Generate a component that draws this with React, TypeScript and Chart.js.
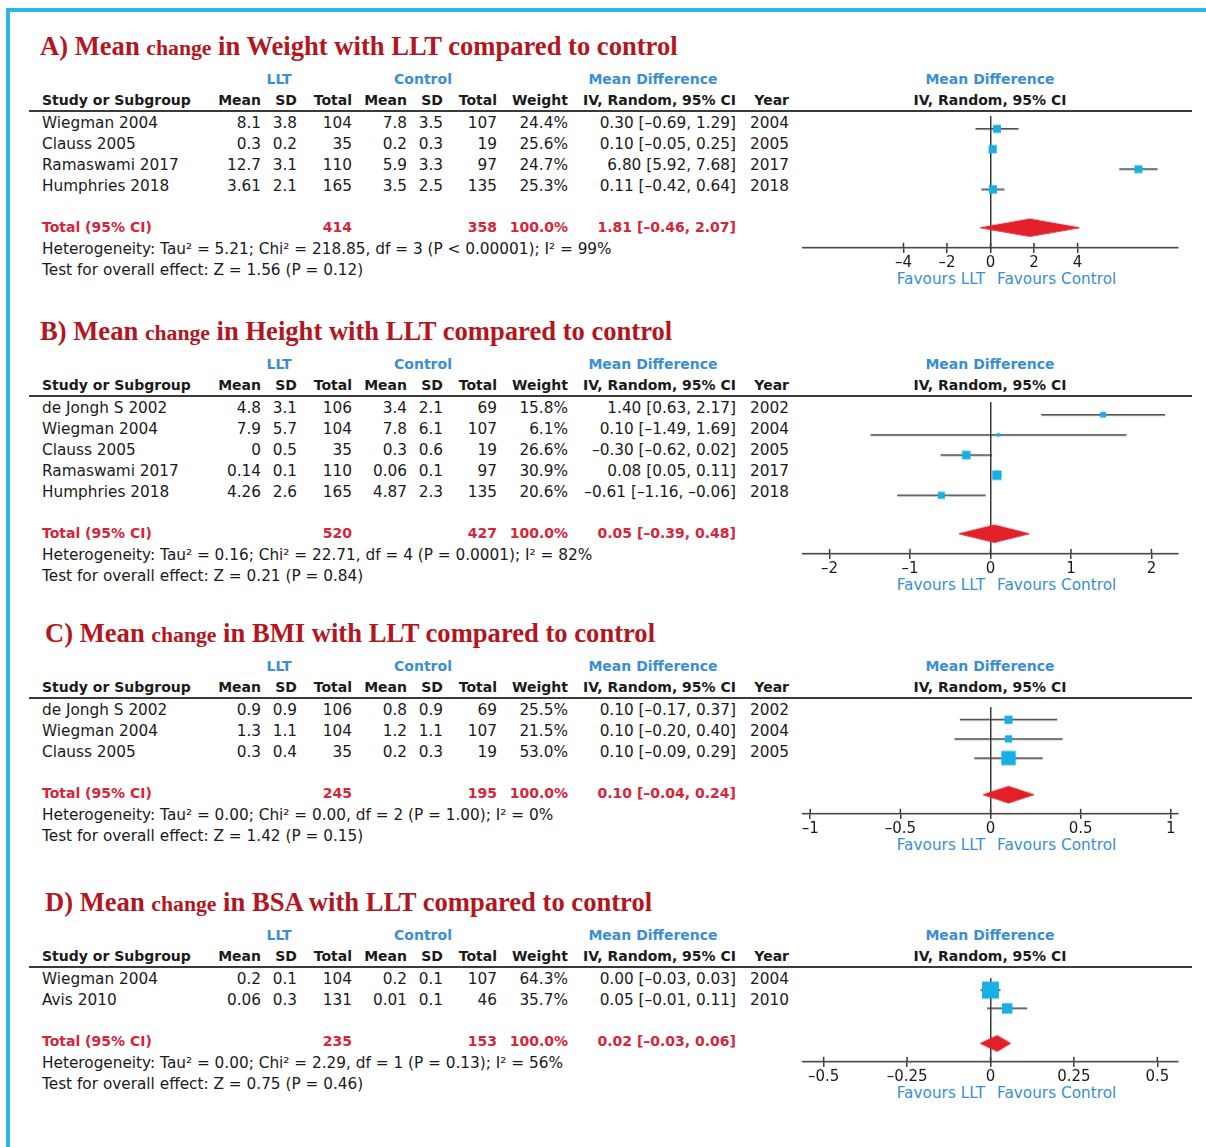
import React, { useEffect, useRef } from "react";
import { Chart, registerables } from "chart.js";

Chart.register(...registerables);

// ---------------- Panel A: Weight ----------------
const weightStudies = ["Wiegman 2004", "Clauss 2005", "Ramaswami 2017", "Humphries 2018"];
const weightLltMean = [8.1, 0.3, 12.7, 3.61];
const weightLltSd = [3.8, 0.2, 3.1, 2.1];
const weightLltTotal = [104, 35, 110, 165];
const weightCtlMean = [7.8, 0.2, 5.9, 3.5];
const weightCtlSd = [3.5, 0.3, 3.3, 2.5];
const weightCtlTotal = [107, 19, 97, 135];
const weightWeights = [24.4, 25.6, 24.7, 25.3];
const weightMD = [0.3, 0.1, 6.8, 0.11];
const weightLow = [-0.69, -0.05, 5.92, -0.42];
const weightHigh = [1.29, 0.25, 7.68, 0.64];
const weightYears = [2004, 2005, 2017, 2018];
const weightTotals = [414, 358];
const weightPooled = [1.81, -0.46, 2.07];
const weightDiamond = [-0.46, 1.81, 4.08];
const weightTicks = [-4, -2, 0, 2, 4];
const weightRange = [-8.62, 8.62];
const weightStats = [
  "Heterogeneity: Tau² = 5.21; Chi² = 218.85, df = 3 (P < 0.00001); I² = 99%",
  "Test for overall effect: Z = 1.56 (P = 0.12)",
];

// ---------------- Panel B: Height ----------------
const heightStudies = ["de Jongh S 2002", "Wiegman 2004", "Clauss 2005", "Ramaswami 2017", "Humphries 2018"];
const heightLltMean = [4.8, 7.9, 0, 0.14, 4.26];
const heightLltSd = [3.1, 5.7, 0.5, 0.1, 2.6];
const heightLltTotal = [106, 104, 35, 110, 165];
const heightCtlMean = [3.4, 7.8, 0.3, 0.06, 4.87];
const heightCtlSd = [2.1, 6.1, 0.6, 0.1, 2.3];
const heightCtlTotal = [69, 107, 19, 97, 135];
const heightWeights = [15.8, 6.1, 26.6, 30.9, 20.6];
const heightMD = [1.4, 0.1, -0.3, 0.08, -0.61];
const heightLow = [0.63, -1.49, -0.62, 0.05, -1.16];
const heightHigh = [2.17, 1.69, 0.02, 0.11, -0.06];
const heightYears = [2002, 2004, 2005, 2017, 2018];
const heightTotals = [520, 427];
const heightPooled = [0.05, -0.39, 0.48];
const heightDiamond = [-0.39, 0.05, 0.48];
const heightTicks = [-2, -1, 0, 1, 2];
const heightRange = [-2.33, 2.33];
const heightStats = [
  "Heterogeneity: Tau² = 0.16; Chi² = 22.71, df = 4 (P = 0.0001); I² = 82%",
  "Test for overall effect: Z = 0.21 (P = 0.84)",
];

// ---------------- Panel C: BMI ----------------
const bmiStudies = ["de Jongh S 2002", "Wiegman 2004", "Clauss 2005"];
const bmiLltMean = [0.9, 1.3, 0.3];
const bmiLltSd = [0.9, 1.1, 0.4];
const bmiLltTotal = [106, 104, 35];
const bmiCtlMean = [0.8, 1.2, 0.2];
const bmiCtlSd = [0.9, 1.1, 0.3];
const bmiCtlTotal = [69, 107, 19];
const bmiWeights = [25.5, 21.5, 53.0];
const bmiMD = [0.1, 0.1, 0.1];
const bmiLow = [-0.17, -0.2, -0.09];
const bmiHigh = [0.37, 0.4, 0.29];
const bmiYears = [2002, 2004, 2005];
const bmiTotals = [245, 195];
const bmiPooled = [0.1, -0.04, 0.24];
const bmiDiamond = [-0.04, 0.1, 0.24];
const bmiTicks = [-1, -0.5, 0, 0.5, 1];
const bmiRange = [-1.04, 1.04];
const bmiStats = [
  "Heterogeneity: Tau² = 0.00; Chi² = 0.00, df = 2 (P = 1.00); I² = 0%",
  "Test for overall effect: Z = 1.42 (P = 0.15)",
];

// ---------------- Panel D: BSA ----------------
const bsaStudies = ["Wiegman 2004", "Avis 2010"];
const bsaLltMean = [0.2, 0.06];
const bsaLltSd = [0.1, 0.3];
const bsaLltTotal = [104, 131];
const bsaCtlMean = [0.2, 0.01];
const bsaCtlSd = [0.1, 0.1];
const bsaCtlTotal = [107, 46];
const bsaWeights = [64.3, 35.7];
const bsaMD = [0.0, 0.05];
const bsaLow = [-0.03, -0.01];
const bsaHigh = [0.03, 0.11];
const bsaYears = [2004, 2010];
const bsaTotals = [235, 153];
const bsaPooled = [0.02, -0.03, 0.06];
const bsaDiamond = [-0.03, 0.02, 0.06];
const bsaTicks = [-0.5, -0.25, 0, 0.25, 0.5];
const bsaRange = [-0.562, 0.562];
const bsaStats = [
  "Heterogeneity: Tau² = 0.00; Chi² = 2.29, df = 1 (P = 0.13); I² = 56%",
  "Test for overall effect: Z = 0.75 (P = 0.46)",
];

// ---------------- style constants ----------------
const SANS = '"DejaVu Sans", sans-serif';
const SERIF = '"Liberation Serif", "Times New Roman", serif';
const INK = "#1a1a1a";
const LINE = "#3a3a3a";
const BLUE = "#3a8ed2";
const TITLE_RED = "#b3161f";
const TOTAL_RED = "#d4253a";
const SQUARE = "#17b0e6";
const DIAMOND = "#e2202a";
const FRAME = "#2cb7e4";
const ROW = 21;
const AXIS_H = 22;
const PLOT_LEFT = 780;
const PLOT_W = 426;
const REG = 15.3;
const B = 14;
const COL = { lm: 261, lsd: 297, ln: 352, cm: 407, csd: 443, cn: 497, w: 568, ci: 736, yr: 789 };

const minus = (s: string) => s.replace(/-/g, "\u2013");
const f2 = (v: number) => minus(v.toFixed(2));
const ciText = (m: number, l: number, h: number) => `${f2(m)} [${f2(l)}, ${f2(h)}]`;

type PanelDef = {
  letter: string;
  subject: string;
  H: number;
  titleX: number;
  studies: string[];
  lltMean: number[];
  lltSd: number[];
  lltTotal: number[];
  ctlMean: number[];
  ctlSd: number[];
  ctlTotal: number[];
  weights: number[];
  md: number[];
  low: number[];
  high: number[];
  years: number[];
  totals: number[];
  pooled: number[];
  diamond: number[];
  ticks: number[];
  range: number[];
  stats: string[];
};

const panels: PanelDef[] = [
  {
    letter: "A)", subject: "Weight", H: 111, titleX: 40,
    studies: weightStudies, lltMean: weightLltMean, lltSd: weightLltSd, lltTotal: weightLltTotal,
    ctlMean: weightCtlMean, ctlSd: weightCtlSd, ctlTotal: weightCtlTotal, weights: weightWeights,
    md: weightMD, low: weightLow, high: weightHigh, years: weightYears, totals: weightTotals,
    pooled: weightPooled, diamond: weightDiamond, ticks: weightTicks, range: weightRange, stats: weightStats,
  },
  {
    letter: "B)", subject: "Height", H: 396, titleX: 40,
    studies: heightStudies, lltMean: heightLltMean, lltSd: heightLltSd, lltTotal: heightLltTotal,
    ctlMean: heightCtlMean, ctlSd: heightCtlSd, ctlTotal: heightCtlTotal, weights: heightWeights,
    md: heightMD, low: heightLow, high: heightHigh, years: heightYears, totals: heightTotals,
    pooled: heightPooled, diamond: heightDiamond, ticks: heightTicks, range: heightRange, stats: heightStats,
  },
  {
    letter: "C)", subject: "BMI", H: 698, titleX: 45,
    studies: bmiStudies, lltMean: bmiLltMean, lltSd: bmiLltSd, lltTotal: bmiLltTotal,
    ctlMean: bmiCtlMean, ctlSd: bmiCtlSd, ctlTotal: bmiCtlTotal, weights: bmiWeights,
    md: bmiMD, low: bmiLow, high: bmiHigh, years: bmiYears, totals: bmiTotals,
    pooled: bmiPooled, diamond: bmiDiamond, ticks: bmiTicks, range: bmiRange, stats: bmiStats,
  },
  {
    letter: "D)", subject: "BSA", H: 967, titleX: 45,
    studies: bsaStudies, lltMean: bsaLltMean, lltSd: bsaLltSd, lltTotal: bsaLltTotal,
    ctlMean: bsaCtlMean, ctlSd: bsaCtlSd, ctlTotal: bsaCtlTotal, weights: bsaWeights,
    md: bsaMD, low: bsaLow, high: bsaHigh, years: bsaYears, totals: bsaTotals,
    pooled: bsaPooled, diamond: bsaDiamond, ticks: bsaTicks, range: bsaRange, stats: bsaStats,
  },
];

function Txt(props: {
  x: number; y: number; children: React.ReactNode; align?: "left" | "right" | "center";
  size?: number; bold?: boolean; color?: string; family?: string;
}) {
  const { x, y, children, align = "left", size = REG, bold = false, color = INK, family = SANS } = props;
  const tx = align === "left" ? "0" : align === "right" ? "-100%" : "-50%";
  return (
    <div
      style={{
        position: "absolute", left: x, top: y, transform: `translate(${tx}, -50%)`,
        whiteSpace: "nowrap", fontFamily: family, fontSize: size, fontWeight: bold ? 700 : 400,
        color, lineHeight: 1,
      }}
    >
      {children}
    </div>
  );
}

const upTicks = {
  id: "upTicks",
  afterDraw(chart: any) {
    const s = chart.scales.x;
    const ctx = chart.ctx;
    const b = chart.chartArea.bottom;
    ctx.save();
    ctx.strokeStyle = LINE;
    ctx.lineWidth = 1.5;
    s.ticks.forEach((t: any) => {
      const px = s.getPixelForValue(t.value);
      ctx.beginPath();
      ctx.moveTo(px, b - 5);
      ctx.lineTo(px, b);
      ctx.stroke();
    });
    ctx.restore();
  },
};

function Forest({ p }: { p: PanelDef }) {
  const ref = useRef<HTMLCanvasElement>(null);
  const n = p.studies.length;
  const h = (n + 2.5) * ROW + AXIS_H;
  useEffect(() => {
    if (!ref.current) return;
    const totalY = n + 0.9;
    const datasets: any[] = [];
    datasets.push({
      data: p.md.map((m, i) => ({ x: m, y: i })),
      showLine: false,
      pointStyle: "rect",
      pointRadius: p.weights.map((w) => (2.4 + 0.225 * w) / Math.SQRT2),
      pointBackgroundColor: SQUARE,
      pointBorderWidth: 0,
      pointBorderColor: SQUARE,
      order: 0,
    });
    p.low.forEach((lo, i) =>
      datasets.push({
        data: [{ x: lo, y: i }, { x: p.high[i], y: i }],
        showLine: true,
        borderColor: LINE,
        borderWidth: 1.5,
        pointRadius: 0,
        order: 2,
      })
    );
    const [dl, dm, dh] = p.diamond;
    datasets.push({
      data: [
        { x: dl, y: totalY }, { x: dm, y: totalY - 0.43 }, { x: dh, y: totalY },
        { x: dm, y: totalY + 0.43 }, { x: dl, y: totalY },
      ],
      showLine: true,
      fill: "shape",
      backgroundColor: DIAMOND,
      borderColor: DIAMOND,
      borderWidth: 1,
      pointRadius: 0,
      order: 1,
    });
    const chart = new Chart(ref.current, {
      type: "scatter",
      data: { datasets },
      options: {
        animation: false,
        responsive: false,
        devicePixelRatio: 1,
        events: [],
        layout: { padding: { left: 23, right: 28, top: 0, bottom: 0 } },
        plugins: { legend: { display: false }, tooltip: { enabled: false }, title: { display: false } },
        scales: {
          x: {
            type: "linear",
            position: "bottom",
            min: p.range[0],
            max: p.range[1],
            afterBuildTicks: (s: any) => {
              s.ticks = p.ticks.map((v) => ({ value: v }));
            },
            afterFit: (s: any) => {
              s.height = AXIS_H;
            },
            grid: { display: true, drawOnChartArea: false, drawTicks: true, tickLength: 5, color: LINE, lineWidth: 1.5 },
            border: { display: true, color: LINE, width: 1.5 },
            ticks: {
              font: { family: "DejaVu Sans", size: 15 },
              color: INK,
              padding: 1,
              autoSkip: false,
              maxRotation: 0,
              callback: (v: any) => minus(String(v)),
            },
          },
          y: {
            type: "linear",
            position: { x: 0 },
            reverse: true,
            min: -0.6,
            max: n + 1.9,
            ticks: { display: false },
            grid: { display: true, drawOnChartArea: false, drawTicks: false },
            border: { display: true, color: LINE, width: 1.5 },
          },
        },
      } as any,
      plugins: [upTicks],
    });
    return () => chart.destroy();
  }, []);
  return (
    <canvas
      ref={ref}
      width={PLOT_W}
      height={h}
      style={{ position: "absolute", left: PLOT_LEFT, top: p.H, width: PLOT_W, height: h }}
    />
  );
}

function Panel({ p }: { p: PanelDef }) {
  const H = p.H;
  const n = p.studies.length;
  const rowY = (i: number) => H + (i + 0.6) * ROW;
  const totY = H + (n + 1.5) * ROW;
  const axisY = H + (n + 2.5) * ROW;
  const hdrY = H - 11;
  const grpY = H - 32;
  return (
    <>
      <div
        style={{
          position: "absolute", left: p.titleX, top: H - 65, transform: "translateY(-50%)",
          whiteSpace: "nowrap", fontFamily: SERIF, fontWeight: 700, color: TITLE_RED, fontSize: 26.6, lineHeight: 1,
        }}
      >
        {p.letter} Mean <span style={{ fontSize: 21.7 }}>change</span> in {p.subject} with LLT compared to control
      </div>
      <Txt x={279} y={grpY} align="center" bold size={B} color={BLUE}>LLT</Txt>
      <Txt x={423} y={grpY} align="center" bold size={B} color={BLUE}>Control</Txt>
      <Txt x={653} y={grpY} align="center" bold size={B} color={BLUE}>Mean Difference</Txt>
      <Txt x={990} y={grpY} align="center" bold size={B} color={BLUE}>Mean Difference</Txt>
      <Txt x={42} y={hdrY} bold size={B}>Study or Subgroup</Txt>
      <Txt x={COL.lm} y={hdrY} align="right" bold size={B}>Mean</Txt>
      <Txt x={COL.lsd} y={hdrY} align="right" bold size={B}>SD</Txt>
      <Txt x={COL.ln} y={hdrY} align="right" bold size={B}>Total</Txt>
      <Txt x={COL.cm} y={hdrY} align="right" bold size={B}>Mean</Txt>
      <Txt x={COL.csd} y={hdrY} align="right" bold size={B}>SD</Txt>
      <Txt x={COL.cn} y={hdrY} align="right" bold size={B}>Total</Txt>
      <Txt x={COL.w} y={hdrY} align="right" bold size={B}>Weight</Txt>
      <Txt x={COL.ci} y={hdrY} align="right" bold size={B}>IV, Random, 95% CI</Txt>
      <Txt x={COL.yr} y={hdrY} align="right" bold size={B}>Year</Txt>
      <Txt x={990} y={hdrY} align="center" bold size={B}>IV, Random, 95% CI</Txt>
      <div style={{ position: "absolute", left: 29, top: H - 1, width: 1163, height: 1.6, background: LINE }} />
      {p.studies.map((s, i) => (
        <React.Fragment key={s}>
          <Txt x={42} y={rowY(i)}>{s}</Txt>
          <Txt x={COL.lm} y={rowY(i)} align="right">{String(p.lltMean[i])}</Txt>
          <Txt x={COL.lsd} y={rowY(i)} align="right">{String(p.lltSd[i])}</Txt>
          <Txt x={COL.ln} y={rowY(i)} align="right">{String(p.lltTotal[i])}</Txt>
          <Txt x={COL.cm} y={rowY(i)} align="right">{String(p.ctlMean[i])}</Txt>
          <Txt x={COL.csd} y={rowY(i)} align="right">{String(p.ctlSd[i])}</Txt>
          <Txt x={COL.cn} y={rowY(i)} align="right">{String(p.ctlTotal[i])}</Txt>
          <Txt x={COL.w} y={rowY(i)} align="right">{p.weights[i].toFixed(1) + "%"}</Txt>
          <Txt x={COL.ci} y={rowY(i)} align="right">{ciText(p.md[i], p.low[i], p.high[i])}</Txt>
          <Txt x={COL.yr} y={rowY(i)} align="right">{String(p.years[i])}</Txt>
        </React.Fragment>
      ))}
      <Txt x={42} y={totY} bold size={B} color={TOTAL_RED}>Total (95% CI)</Txt>
      <Txt x={COL.ln} y={totY} align="right" bold size={B} color={TOTAL_RED}>{String(p.totals[0])}</Txt>
      <Txt x={COL.cn} y={totY} align="right" bold size={B} color={TOTAL_RED}>{String(p.totals[1])}</Txt>
      <Txt x={COL.w} y={totY} align="right" bold size={B} color={TOTAL_RED}>100.0%</Txt>
      <Txt x={COL.ci} y={totY} align="right" bold size={B} color={TOTAL_RED}>
        {ciText(p.pooled[0], p.pooled[1], p.pooled[2])}
      </Txt>
      <Txt x={42} y={totY + 23.5}>{p.stats[0]}</Txt>
      <Txt x={42} y={totY + 44.5}>{p.stats[1]}</Txt>
      <Forest p={p} />
      <Txt x={985} y={axisY + 32} align="right" color={BLUE}>Favours LLT</Txt>
      <Txt x={997} y={axisY + 32} color={BLUE}>Favours Control</Txt>
    </>
  );
}

export default function App() {
  return (
    <div
      style={{
        position: "absolute", left: 0, top: 0, width: 1206, height: 1147, background: "#ffffff",
        overflow: "hidden",
      }}
    >
      <div
        style={{
          position: "absolute", left: 6, top: 8, width: 1210, height: 1150,
          borderLeft: `4px solid ${FRAME}`, borderTop: `4px solid ${FRAME}`,
        }}
      />
      {panels.map((p) => (
        <Panel key={p.letter} p={p} />
      ))}
    </div>
  );
}
